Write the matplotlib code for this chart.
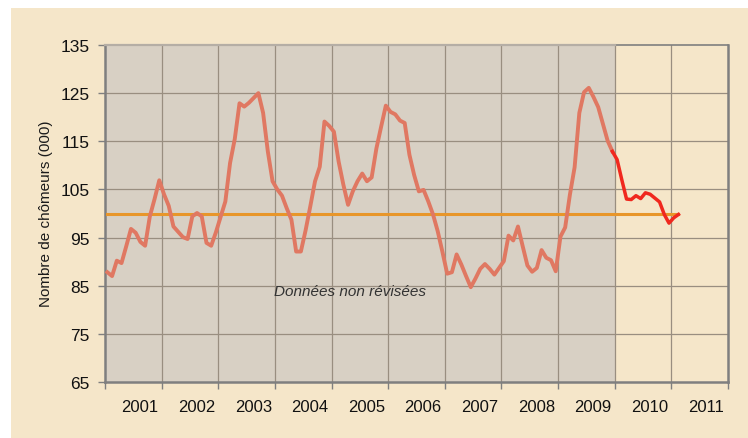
import numpy as np
import matplotlib
matplotlib.use("Agg")
import matplotlib.pyplot as plt
from matplotlib.patches import Rectangle

plt.rcParams['font.family'] = ['Liberation Sans', 'DejaVu Sans']

# monthly values, thousands of unemployed
chomeurs = [
    87.8, 87.0, 90.2, 89.7, 93.2, 96.8, 96.0, 94.1, 93.3, 99.4, 103.0, 106.9,
    104.0, 101.6, 97.3, 96.2, 95.1, 94.7, 99.4, 100.1, 99.4, 93.9, 93.3, 96.1,
    99.3, 102.5, 110.5, 115.5, 122.9, 122.2, 123.0, 124.0, 125.0, 120.9, 112.9, 106.7,
    105.0, 103.7, 101.1, 98.7, 92.1, 92.1, 96.5, 101.5, 106.7, 109.7, 119.1, 118.2,
    117.0, 110.8, 106.0, 101.8, 104.6, 106.7, 108.3, 106.7, 107.5, 113.5, 118.0, 122.4,
    121.1, 120.6, 119.3, 118.8, 112.2, 108.0, 104.6, 104.9, 102.5, 99.8, 96.3, 92.0,
    87.5, 87.8, 91.5, 89.4, 87.0, 84.7, 86.5, 88.5, 89.5, 88.5, 87.3, 88.7,
    90.1, 95.4, 94.4, 97.3, 93.2, 89.2, 87.9, 88.7, 92.4, 90.8, 90.3, 88.0,
    95.2, 97.1, 103.9, 109.6, 120.9, 125.2, 126.1, 124.2, 122.1, 118.6, 115.1, 112.9,
    111.2, 107.0, 103.0, 102.9, 103.7, 103.1, 104.3, 104.0, 103.2, 102.4, 99.8, 98.0,
    99.1, 99.8,
]
n_revised = 107          # last index of the non-revised data
reference_level = 99.8
years = [str(y) for y in range(2001, 2012)]
yticks = [65, 75, 85, 95, 105, 115, 125, 135]

months = np.arange(len(chomeurs))
vals = np.array(chomeurs)

beige = '#F5E6C9'
grey_zone = '#D8D0C4'
axis_col = '#7F7F7F'
grid_col = '#998E80'

fig = plt.figure(figsize=(7.48, 4.39), dpi=100, facecolor='white')
fig.add_artist(Rectangle((11 / 748, 0), 1, 1 - 9 / 439, transform=fig.transFigure,
                         facecolor=beige, edgecolor='none', zorder=-10))

ax = fig.add_axes([105 / 748, 1 - 383 / 439, 623 / 748, 337 / 439])
ax.set_facecolor(beige)

n_cols = 12 * len(years)
x0, x1 = -0.5, n_cols - 0.5
ax.set_xlim(x0, x1)
ax.set_ylim(65, 135)

ax.axvspan(x0, n_revised + 0.5, color=grey_zone, zorder=0, lw=0)

# grid
for yv in yticks[1:-1]:
    ax.axhline(yv, color=grid_col, lw=0.9, zorder=1)
year_edges = x0 + 12 * np.arange(len(years) + 1)
for xv in year_edges[1:-1]:
    ax.axvline(xv, color=grid_col, lw=0.9, zorder=1)

ax.plot([months[0], months[-1]], [reference_level, reference_level],
        color='#E8962A', lw=2.2, zorder=3, solid_capstyle='projecting')
ax.plot(months[:n_revised + 1], vals[:n_revised + 1], color='#E07862', lw=2.8,
        zorder=4, solid_joinstyle='round')
ax.plot(months[n_revised:], vals[n_revised:], color='#F0281E', lw=2.5,
        zorder=4, solid_joinstyle='round')

ax.text(51.5, 83.8, 'Données non révisées', style='italic', fontsize=11,
        color='#333333', ha='center', va='center', zorder=5)

for side in ['left', 'bottom', 'right', 'top']:
    ax.spines[side].set_color(axis_col)
    ax.spines[side].set_linewidth(1.8)
ax.spines['top'].set_linewidth(1.2)
ax.plot([x0, n_revised + 0.5], [135, 135], color='#B5AEA5', lw=1.6,
        clip_on=False, zorder=6)

ax.set_yticks(yticks)
ax.tick_params(axis='y', length=5, width=1, color=axis_col, pad=6,
               labelsize=12.5, labelcolor='#111111')
ax.set_xticks(year_edges)
ax.set_xticklabels([])
ax.set_xticks(year_edges[:-1] + 6 + 1.4, minor=True)
ax.set_xticklabels(years, minor=True)
ax.tick_params(axis='x', which='major', length=5, width=1, color=axis_col)
ax.tick_params(axis='x', which='minor', length=0, pad=12, labelsize=12,
               labelcolor='#111111')

fig.text(46 / 748, 1 - 214 / 439, 'Nombre de chômeurs (000)', rotation=90,
         ha='center', va='center', fontsize=11, color='#1A1A1A')

fig.savefig('out.png', dpi=100, facecolor=fig.get_facecolor())
